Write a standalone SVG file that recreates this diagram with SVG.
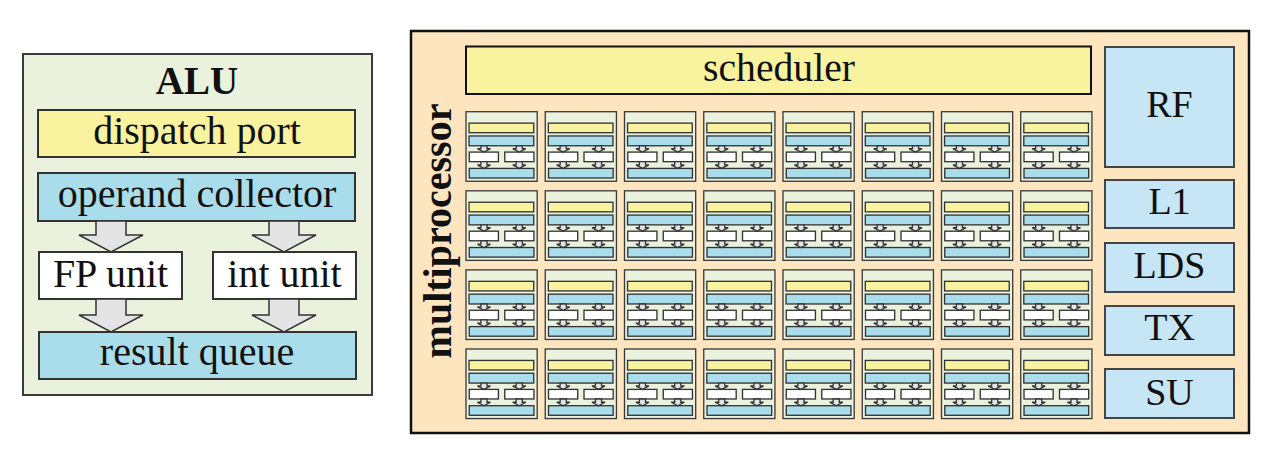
<svg xmlns="http://www.w3.org/2000/svg" xmlns:xlink="http://www.w3.org/1999/xlink" width="1263" height="451" viewBox="0 0 1263 451">
<style>
  .t{font-family:"Liberation Serif","Times New Roman",serif;fill:#111;text-anchor:middle}
  .b{font-weight:bold}
  .aluBg{fill:#EAF1DD;stroke:#3a3a3a}
  .yel{fill:#F9F39F;stroke:#333}
  .blu{fill:#AADDEB;stroke:#333}
  .wht{fill:#FFFFFF;stroke:#333}
  .arr{fill:#E4E4E4;stroke:#333}
  .rblu{fill:#C6E6F5;stroke:#444;stroke-width:2}
</style>
<defs>
  <g id="mini">
    <rect class="aluBg" x="0" y="0" width="349" height="341"/>
    <rect class="yel" x="15" y="56" width="317" height="47"/>
    <rect class="blu" x="15" y="119" width="317" height="48"/>
    <rect class="wht" x="16" y="198" width="143" height="47"/>
    <rect class="wht" x="190" y="198" width="143" height="47"/>
    <rect class="blu" x="16" y="278" width="317" height="47"/>
    <path class="arr" d="M73,167H103V181H120L88,198L56,181H73Z"/>
    <path class="arr" d="M246,167H276V181H293L261,198L229,181H246Z"/>
    <path class="arr" d="M73,245H103V261H120L88,278L56,261H73Z"/>
    <path class="arr" d="M246,245H276V261H293L261,278L229,261H246Z"/>
  </g>
</defs>

<!-- ALU detail -->
<g id="alu">
  <rect class="aluBg" x="23" y="54" width="349" height="341" stroke-width="2"/>
  <text class="t b" x="197" y="94" font-size="39">ALU</text>
</g>
<g id="dispatch-port">
  <rect class="yel" x="38" y="110" width="317" height="47" stroke-width="2"/>
  <text class="t" x="197" y="144" font-size="40">dispatch port</text>
</g>
<g id="operand-collector">
  <rect class="blu" x="38" y="173" width="317" height="48" stroke-width="2"/>
  <text class="t" x="197" y="207" font-size="40">operand collector</text>
</g>
<g id="fp-unit">
  <rect class="wht" x="39" y="252" width="143" height="47" stroke-width="2"/>
  <text class="t" x="110.5" y="287" font-size="40">FP unit</text>
</g>
<g id="int-unit">
  <rect class="wht" x="213" y="252" width="143" height="47" stroke-width="2"/>
  <text class="t" x="284.5" y="287" font-size="40">int unit</text>
</g>
<g id="result-queue">
  <rect class="blu" x="39" y="332" width="317" height="47" stroke-width="2"/>
  <text class="t" x="197" y="365" font-size="40">result queue</text>
</g>
<g id="connectors" stroke-width="1.5">
  <path class="arr" d="M96,221H126V235H143L111,252L79,235H96Z"/>
  <path class="arr" d="M269,221H299V235H316L284,252L252,235H269Z"/>
  <path class="arr" d="M96,299H126V315H143L111,332L79,315H96Z"/>
  <path class="arr" d="M269,299H299V315H316L284,332L252,315H269Z"/>
</g>

<!-- multiprocessor -->
<g id="multiprocessor">
  <rect x="411" y="31" width="838" height="402" fill="#FDE5C0" stroke="#111" stroke-width="2.5"/>
  <text class="t b" font-size="40" transform="translate(451,231) rotate(-90)">multiprocessor</text>
</g>
<g id="scheduler">
  <rect x="466" y="46.5" width="625" height="47.5" fill="#F9F39F" stroke="#111" stroke-width="2"/>
  <text class="t" x="779" y="81" font-size="39" textLength="152" lengthAdjust="spacingAndGlyphs">scheduler</text>
</g>
<g id="rf"><rect class="rblu" x="1105" y="47" width="129" height="120"/><text class="t" x="1169.5" y="117" font-size="38">RF</text></g>
<g id="l1"><rect class="rblu" x="1105" y="180" width="129" height="48"/><text class="t" x="1169.5" y="214" font-size="38">L1</text></g>
<g id="lds"><rect class="rblu" x="1105" y="243" width="129" height="49"/><text class="t" x="1169.5" y="278" font-size="38">LDS</text></g>
<g id="tx"><rect class="rblu" x="1105" y="306" width="129" height="49"/><text class="t" x="1169.5" y="340" font-size="38">TX</text></g>
<g id="su"><rect class="rblu" x="1105" y="369" width="129" height="49"/><text class="t" x="1169.5" y="405" font-size="38">SU</text></g>

<g id="alu-grid" stroke-width="6.5">
  <g id="alu-r1-c1"><use href="#mini" transform="translate(466,111.7) scale(0.204)"/></g>
  <g id="alu-r1-c2"><use href="#mini" transform="translate(545.25,111.7) scale(0.204)"/></g>
  <g id="alu-r1-c3"><use href="#mini" transform="translate(624.5,111.7) scale(0.204)"/></g>
  <g id="alu-r1-c4"><use href="#mini" transform="translate(703.75,111.7) scale(0.204)"/></g>
  <g id="alu-r1-c5"><use href="#mini" transform="translate(783,111.7) scale(0.204)"/></g>
  <g id="alu-r1-c6"><use href="#mini" transform="translate(862.25,111.7) scale(0.204)"/></g>
  <g id="alu-r1-c7"><use href="#mini" transform="translate(941.5,111.7) scale(0.204)"/></g>
  <g id="alu-r1-c8"><use href="#mini" transform="translate(1020.75,111.7) scale(0.204)"/></g>
  <g id="alu-r2-c1"><use href="#mini" transform="translate(466,190.8) scale(0.204)"/></g>
  <g id="alu-r2-c2"><use href="#mini" transform="translate(545.25,190.8) scale(0.204)"/></g>
  <g id="alu-r2-c3"><use href="#mini" transform="translate(624.5,190.8) scale(0.204)"/></g>
  <g id="alu-r2-c4"><use href="#mini" transform="translate(703.75,190.8) scale(0.204)"/></g>
  <g id="alu-r2-c5"><use href="#mini" transform="translate(783,190.8) scale(0.204)"/></g>
  <g id="alu-r2-c6"><use href="#mini" transform="translate(862.25,190.8) scale(0.204)"/></g>
  <g id="alu-r2-c7"><use href="#mini" transform="translate(941.5,190.8) scale(0.204)"/></g>
  <g id="alu-r2-c8"><use href="#mini" transform="translate(1020.75,190.8) scale(0.204)"/></g>
  <g id="alu-r3-c1"><use href="#mini" transform="translate(466,269.9) scale(0.204)"/></g>
  <g id="alu-r3-c2"><use href="#mini" transform="translate(545.25,269.9) scale(0.204)"/></g>
  <g id="alu-r3-c3"><use href="#mini" transform="translate(624.5,269.9) scale(0.204)"/></g>
  <g id="alu-r3-c4"><use href="#mini" transform="translate(703.75,269.9) scale(0.204)"/></g>
  <g id="alu-r3-c5"><use href="#mini" transform="translate(783,269.9) scale(0.204)"/></g>
  <g id="alu-r3-c6"><use href="#mini" transform="translate(862.25,269.9) scale(0.204)"/></g>
  <g id="alu-r3-c7"><use href="#mini" transform="translate(941.5,269.9) scale(0.204)"/></g>
  <g id="alu-r3-c8"><use href="#mini" transform="translate(1020.75,269.9) scale(0.204)"/></g>
  <g id="alu-r4-c1"><use href="#mini" transform="translate(466,349) scale(0.204)"/></g>
  <g id="alu-r4-c2"><use href="#mini" transform="translate(545.25,349) scale(0.204)"/></g>
  <g id="alu-r4-c3"><use href="#mini" transform="translate(624.5,349) scale(0.204)"/></g>
  <g id="alu-r4-c4"><use href="#mini" transform="translate(703.75,349) scale(0.204)"/></g>
  <g id="alu-r4-c5"><use href="#mini" transform="translate(783,349) scale(0.204)"/></g>
  <g id="alu-r4-c6"><use href="#mini" transform="translate(862.25,349) scale(0.204)"/></g>
  <g id="alu-r4-c7"><use href="#mini" transform="translate(941.5,349) scale(0.204)"/></g>
  <g id="alu-r4-c8"><use href="#mini" transform="translate(1020.75,349) scale(0.204)"/></g>
</g>
</svg>
